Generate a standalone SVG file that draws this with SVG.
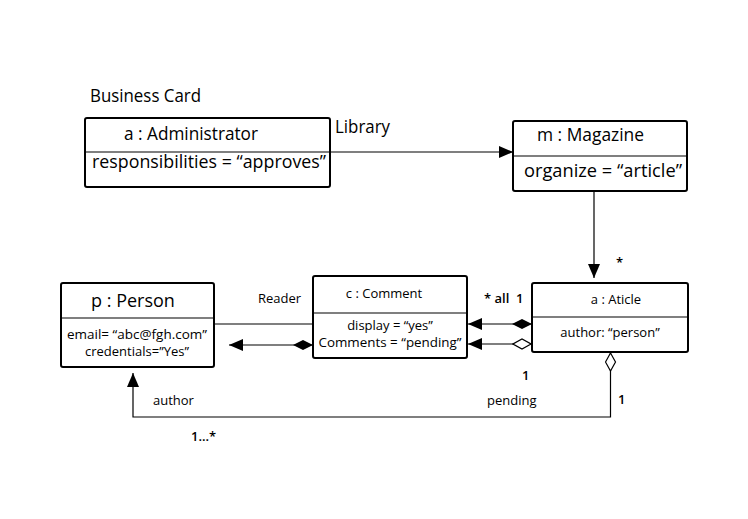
<svg xmlns="http://www.w3.org/2000/svg" width="748" height="519" viewBox="0 0 748 519">
<defs>
<style>
.box{fill:#fff;stroke:#000;stroke-width:2}
.div{stroke:#000;stroke-width:1.2}
.ln{fill:none;stroke:#000;stroke-width:1.2}
text{font-family:"Open Sans","Liberation Sans",sans-serif;fill:#000}
.t17{font-size:17.5px}
.t13{font-size:13px}
.lbl{font-size:13px}
.num{font-size:13px;font-weight:600}
</style>
<marker id="arr" viewBox="0 0 14 12" refX="14" refY="6" markerWidth="14" markerHeight="12" markerUnits="userSpaceOnUse" orient="auto">
<path d="M0,0 L14,6 L0,12 Z" fill="#000"/>
</marker>
<marker id="fd" viewBox="0 0 20 12" refX="0" refY="6" markerWidth="20" markerHeight="12" markerUnits="userSpaceOnUse" orient="auto">
<path d="M0,6 L10,1 L20,6 L10,11 Z" fill="#000"/>
</marker>
<marker id="hd" viewBox="0 0 20 12" refX="0" refY="6" markerWidth="20" markerHeight="12" markerUnits="userSpaceOnUse" orient="auto">
<path d="M1,6 L10,1 L19,6 L10,11 Z" fill="#fff" stroke="#000" stroke-width="1.2"/>
</marker>
</defs>
<rect width="748" height="519" fill="#fff"/>
<text x="90" y="102" class="t17" textLength="111" lengthAdjust="spacingAndGlyphs">Business Card</text>
<g id="connectors">
<line class="ln" x1="331" y1="152" x2="513" y2="152" marker-end="url(#arr)"/>
<text x="335" y="133" class="t17" textLength="55" lengthAdjust="spacingAndGlyphs">Library</text>
<line class="ln" x1="594" y1="191" x2="594" y2="278" marker-end="url(#arr)"/>
<text x="616" y="267" class="num">*</text>
<line class="ln" x1="532" y1="324" x2="468" y2="324" marker-start="url(#fd)" marker-end="url(#arr)"/>
<line class="ln" x1="532" y1="344" x2="468" y2="344" marker-start="url(#hd)" marker-end="url(#arr)"/>
<text x="484" y="303" class="num" xml:space="preserve">* all  1</text>
<line class="ln" x1="214" y1="324" x2="313" y2="324"/>
<text x="258" y="303" class="lbl">Reader</text>
<line class="ln" x1="313" y1="345" x2="229" y2="345" marker-start="url(#fd)" marker-end="url(#arr)"/>
<path class="ln" d="M610.5,352 L610.5,417 L133,417 L133,373" marker-start="url(#hd)" marker-end="url(#arr)"/>
<text x="153" y="405" class="lbl">author</text>
<text x="487" y="405" class="lbl">pending</text>
<text x="522" y="380" class="num">1</text>
<text x="618" y="404" class="num">1</text>
<text x="191" y="441" class="num">1...*</text>
</g>
<g id="administrator">
<rect class="box" x="85" y="118" width="245" height="69" rx="2"/>
<line class="div" x1="85" y1="152" x2="330" y2="152"/>
<text x="124" y="140" class="t17" textLength="134" lengthAdjust="spacingAndGlyphs">a : Administrator</text>
<text x="92" y="168" class="t17" textLength="234" lengthAdjust="spacingAndGlyphs">responsibilities = “approves”</text>
</g>
<g id="magazine">
<rect class="box" x="513" y="121" width="174" height="70" rx="2"/>
<line class="div" x1="513" y1="156" x2="687" y2="156"/>
<text x="537" y="141" class="t17" textLength="107" lengthAdjust="spacingAndGlyphs">m : Magazine</text>
<text x="524" y="177" class="t17" textLength="158" lengthAdjust="spacingAndGlyphs">organize = “article”</text>
</g>
<g id="article">
<rect class="box" x="532" y="283" width="156" height="69" rx="2"/>
<line class="div" x1="532" y1="317" x2="688" y2="317"/>
<text x="616" y="304" class="t13" text-anchor="middle">a : Aticle</text>
<text x="610" y="337" class="t13" text-anchor="middle">author: “person”</text>
</g>
<g id="comment">
<rect class="box" x="313" y="276" width="154" height="82" rx="2"/>
<line class="div" x1="313" y1="313" x2="467" y2="313"/>
<text x="384" y="298" class="t13" text-anchor="middle">c : Comment</text>
<text x="390" y="330" class="t13" text-anchor="middle">display = “yes”</text>
<text x="390" y="347" class="t13" text-anchor="middle" textLength="143" lengthAdjust="spacingAndGlyphs">Comments = “pending”</text>
</g>
<g id="person">
<rect class="box" x="61" y="283" width="153" height="84" rx="2"/>
<line class="div" x1="61" y1="318" x2="214" y2="318"/>
<text x="133" y="307" font-size="18" text-anchor="middle">p : Person</text>
<text x="137" y="339" class="t13" text-anchor="middle" textLength="140" lengthAdjust="spacingAndGlyphs">email= “abc@fgh.com”</text>
<text x="137" y="356" class="t13" text-anchor="middle">credentials=”Yes”</text>
</g>
</svg>
